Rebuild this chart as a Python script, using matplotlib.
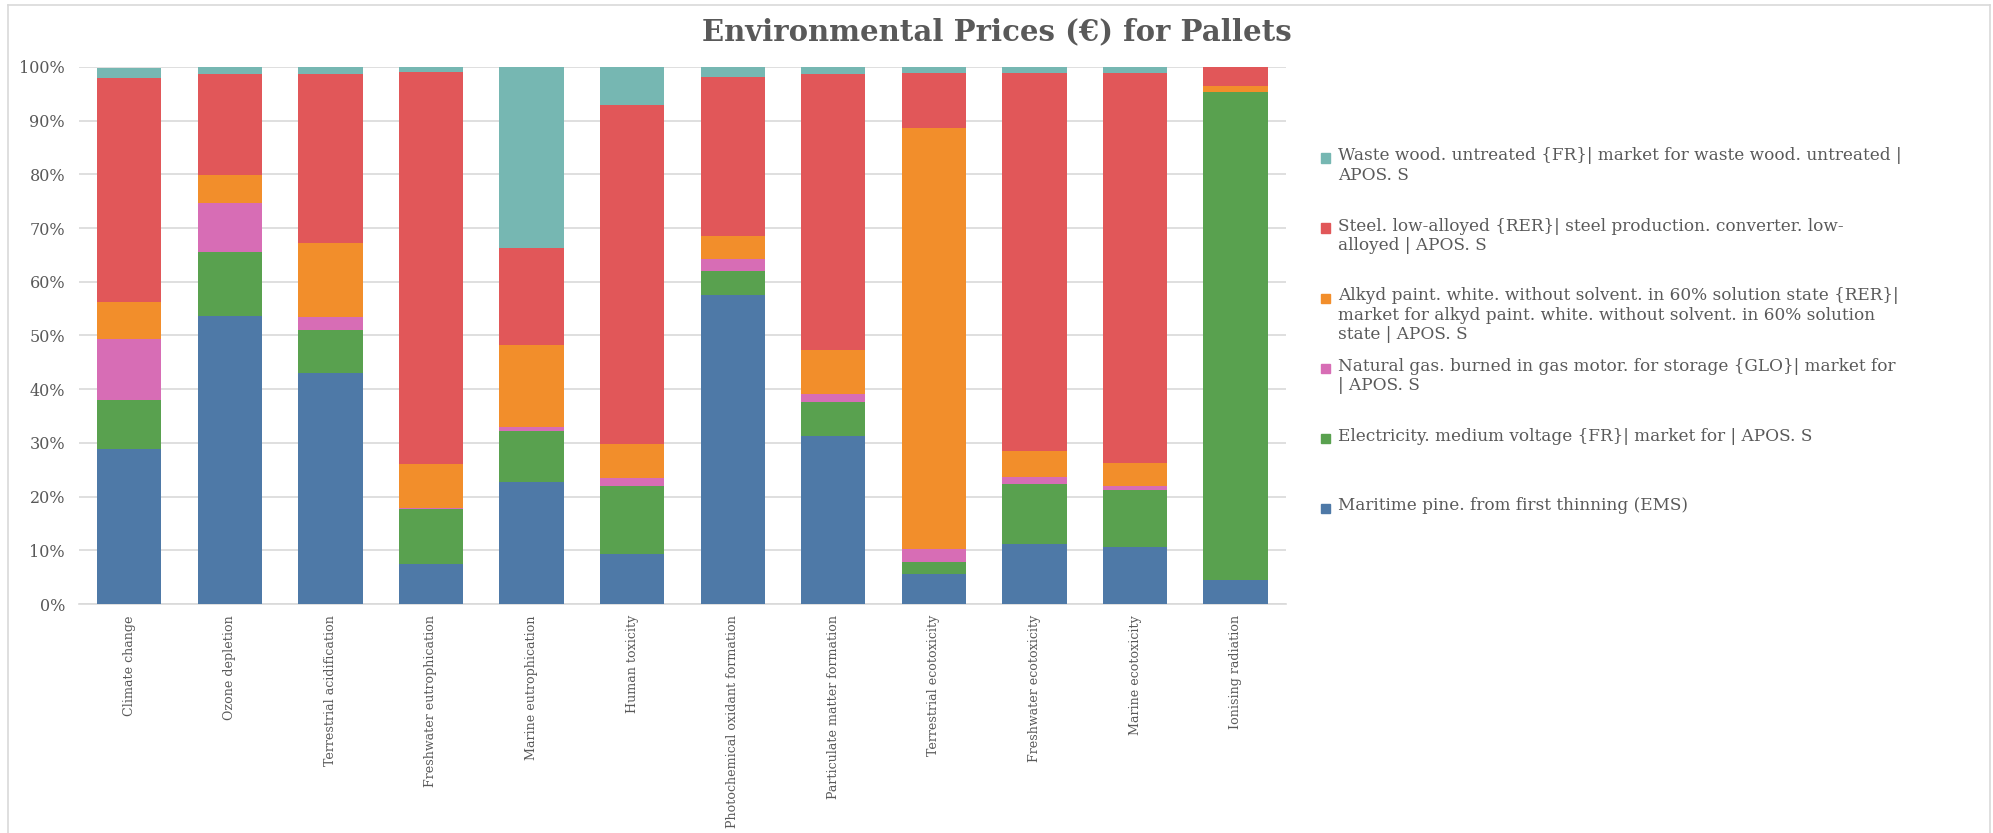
import matplotlib
matplotlib.use("Agg")
from matplotlib import pyplot as plt
from matplotlib.patches import Rectangle
from matplotlib.lines import Line2D
import numpy as np

categories = ['Climate change', 'Ozone depletion', 'Terrestrial acidification',
              'Freshwater eutrophication', 'Marine eutrophication', 'Human toxicity',
              'Photochemical oxidant formation', 'Particulate matter formation',
              'Terrestrial ecotoxicity', 'Freshwater ecotoxicity', 'Marine ecotoxicity',
              'Ionising radiation']

# shares in % (stacked bottom -> top)
maritime_pine = [28.9, 53.6, 43.1, 7.5, 22.8, 9.3, 57.6, 31.3, 5.5, 11.1, 10.6, 4.4]
electricity = [9.0, 11.9, 7.9, 10.1, 9.4, 12.7, 4.4, 6.3, 2.4, 11.2, 10.7, 91.0]
natural_gas = [11.4, 9.1, 2.4, 0.3, 0.7, 1.4, 2.3, 1.5, 2.4, 1.4, 0.6, 0.0]
alkyd_paint = [7.0, 5.2, 13.9, 8.2, 15.3, 6.4, 4.2, 8.2, 78.3, 4.8, 4.4, 1.0]
steel = [41.6, 18.9, 31.4, 72.9, 18.0, 63.1, 29.7, 51.4, 10.3, 70.4, 72.6, 3.6]
waste_wood = [2.0, 1.3, 1.3, 1.0, 33.8, 7.1, 1.8, 1.3, 1.1, 1.1, 1.1, 0.0]

series_labels = [
    'Maritime pine. from first thinning (EMS)',
    'Electricity. medium voltage {FR}| market for | APOS. S',
    'Natural gas. burned in gas motor. for storage {GLO}| market for\n| APOS. S',
    'Alkyd paint. white. without solvent. in 60% solution state {RER}|\n'
    'market for alkyd paint. white. without solvent. in 60% solution\nstate | APOS. S',
    'Steel. low-alloyed {RER}| steel production. converter. low-\nalloyed | APOS. S',
    'Waste wood. untreated {FR}| market for waste wood. untreated |\nAPOS. S',
]
series_values = [maritime_pine, electricity, natural_gas, alkyd_paint, steel, waste_wood]
series_colors = ['#4E79A7', '#59A14F', '#D76DB5', '#F28E2B', '#E15759', '#76B7B2']

txt_color = '#595959'
serif = 'DejaVu Serif'

fig = plt.figure(figsize=(19.93, 8.33), dpi=100)
ax = fig.add_axes([0.0396, 0.2749, 0.6056, 0.6447])

x = np.arange(len(categories))
bottom = np.zeros(len(categories))
for vals, col in zip(series_values, series_colors):
    vals = np.array(vals)
    ax.bar(x, vals, 0.64, bottom=bottom, color=col, zorder=3)
    bottom += vals

ax.set_xlim(-0.5, len(categories) - 0.5)
ax.set_ylim(0, 100)
ax.set_yticks(range(0, 101, 10))
ax.set_yticklabels([f'{v}%' for v in range(0, 101, 10)], fontsize=11.5,
                   color=txt_color, family=serif)
ax.set_xticks(x)
ax.set_xticklabels(categories, rotation=90, fontsize=9.1, color=txt_color,
                   family=serif, va='top', ha='center')
ax.tick_params(axis='both', length=0)
ax.tick_params(axis='x', pad=8)
ax.tick_params(axis='y', pad=10)
ax.grid(axis='y', color='#D9D9D9', linewidth=1.2, zorder=0)
for s in ['top', 'right', 'left']:
    ax.spines[s].set_visible(False)
ax.spines['bottom'].set_color('#D9D9D9')
ax.spines['bottom'].set_linewidth(1.2)

fig.text(0.5, 1 - 32 / 833, 'Environmental Prices (€) for Pallets', ha='center', va='center',
         fontsize=21, fontweight='bold', color=txt_color, family=serif)

# legend drawn Excel-style: top entry first, first line aligned with the marker
legend_y = [158, 228, 298, 368, 439, 508]
for i, (lab, col) in enumerate(zip(series_labels[::-1], series_colors[::-1])):
    yc = 1 - legend_y[i] / 833
    fig.patches.append(Rectangle((1321 / 1993, yc - 4.5 / 833), 9 / 1993, 9 / 833,
                                 transform=fig.transFigure, color=col))
    fig.text(1338 / 1993, yc + 10.5 / 833, lab, ha='left', va='top', fontsize=12.2,
             color=txt_color, family=serif, linespacing=1.17)

# light chart border
for xs, ys in [([0.004, 0.004], [0.0, 0.994]), ([0.004, 0.9985], [0.994, 0.994]),
               ([0.9985, 0.9985], [0.0, 0.994])]:
    fig.add_artist(Line2D(xs, ys, transform=fig.transFigure, color='#D9D9D9', linewidth=1.2))

plt.savefig('out.png', dpi=100)
